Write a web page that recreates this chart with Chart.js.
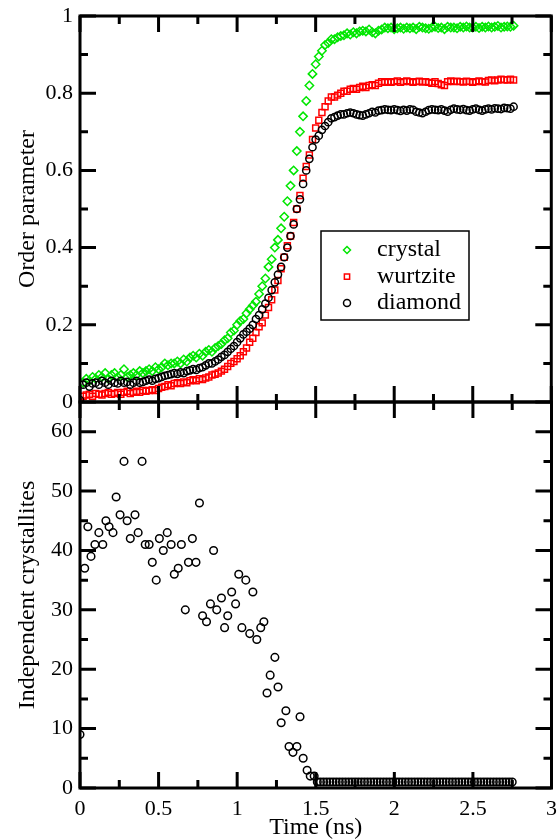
<!DOCTYPE html>
<html>
<head>
<meta charset="utf-8">
<script src="https://cdn.jsdelivr.net/npm/chart.js@4.4.1/dist/chart.umd.min.js"></script>
<style>
html, body { margin: 0; padding: 0; background: #fff; }
#wrap { position: relative; width: 557px; height: 840px; }
canvas { position: absolute; left: 0; }
#topChart { top: 0; }
#bottomChart { top: 392px; }
#overlay { top: 0; pointer-events: none; }
</style>
</head>
<body>
<div id="wrap">
<canvas id="topChart" width="557" height="412"></canvas>
<canvas id="bottomChart" width="557" height="448"></canvas>
<canvas id="overlay" width="557" height="840"></canvas>
</div>
<script>
// time axis of the order parameter runs (ns)
var times = [
  0, 0.02, 0.04, 0.06, 0.08, 0.1, 0.12, 0.14, 0.16, 0.18,
  0.2, 0.22, 0.24, 0.26, 0.28, 0.3, 0.32, 0.34, 0.36, 0.38,
  0.4, 0.42, 0.44, 0.46, 0.48, 0.5, 0.52, 0.54, 0.56, 0.58,
  0.6, 0.62, 0.64, 0.66, 0.68, 0.7, 0.72, 0.74, 0.76, 0.78,
  0.8, 0.82, 0.84, 0.86, 0.88, 0.9, 0.92, 0.94, 0.96, 0.98,
  1, 1.02, 1.04, 1.06, 1.08, 1.1, 1.12, 1.14, 1.16, 1.18,
  1.2, 1.22, 1.24, 1.26, 1.28, 1.3, 1.32, 1.34, 1.36, 1.38,
  1.4, 1.42, 1.44, 1.46, 1.48, 1.5, 1.52, 1.54, 1.56, 1.58,
  1.6, 1.62, 1.64, 1.66, 1.68, 1.7, 1.72, 1.74, 1.76, 1.78,
  1.8, 1.82, 1.84, 1.86, 1.88, 1.9, 1.92, 1.94, 1.96, 1.98,
  2, 2.02, 2.04, 2.06, 2.08, 2.1, 2.12, 2.14, 2.16, 2.18,
  2.2, 2.22, 2.24, 2.26, 2.28, 2.3, 2.32, 2.34, 2.36, 2.38,
  2.4, 2.42, 2.44, 2.46, 2.48, 2.5, 2.52, 2.54, 2.56, 2.58,
  2.6, 2.62, 2.64, 2.66, 2.68, 2.7, 2.72, 2.74, 2.76
];

var crystal = [
  0, 0.05, 0.06, 0.055, 0.065, 0.06, 0.07, 0.065, 0.075, 0.06,
  0.07, 0.075, 0.065, 0.07, 0.085, 0.065, 0.07, 0.075, 0.07, 0.08,
  0.075, 0.08, 0.085, 0.08, 0.09, 0.085, 0.09, 0.1, 0.095, 0.1,
  0.1, 0.105, 0.1, 0.11, 0.105, 0.115, 0.12, 0.115, 0.125, 0.12,
  0.13, 0.135, 0.13, 0.14, 0.145, 0.15, 0.16, 0.165, 0.18, 0.185,
  0.2, 0.21, 0.215, 0.23, 0.24, 0.25, 0.26, 0.28, 0.3, 0.32,
  0.35, 0.37, 0.4, 0.42, 0.45, 0.48, 0.52, 0.56, 0.6, 0.65,
  0.7, 0.74, 0.78, 0.82, 0.85, 0.875, 0.895, 0.91, 0.925, 0.93,
  0.94, 0.94, 0.945, 0.948, 0.95, 0.955, 0.952, 0.958, 0.955, 0.96,
  0.962, 0.96, 0.965, 0.958, 0.955, 0.962, 0.965, 0.97, 0.968, 0.97,
  0.966, 0.968, 0.97, 0.967, 0.97, 0.968, 0.97, 0.966, 0.972, 0.97,
  0.968, 0.967, 0.97, 0.972, 0.969, 0.97, 0.966, 0.972, 0.97, 0.97,
  0.968, 0.972, 0.97, 0.973, 0.97, 0.97, 0.972, 0.969, 0.972, 0.97,
  0.973, 0.97, 0.972, 0.974, 0.97, 0.972, 0.973, 0.972, 0.975
];

var wurtzite = [
  0, 0.015, 0.018, 0.02, 0.015, 0.022, 0.02, 0.018, 0.022, 0.025,
  0.02, 0.022, 0.025, 0.02, 0.025, 0.028, 0.022, 0.025, 0.028, 0.025,
  0.03, 0.028, 0.03, 0.032, 0.03, 0.035, 0.038, 0.04, 0.045, 0.042,
  0.048, 0.05, 0.048, 0.052, 0.05, 0.055, 0.058, 0.055, 0.06, 0.058,
  0.062, 0.065, 0.07, 0.072, 0.075, 0.08, 0.085, 0.092, 0.1, 0.105,
  0.112, 0.12, 0.13, 0.14, 0.155, 0.165, 0.18, 0.195, 0.205, 0.225,
  0.245, 0.265, 0.29, 0.315, 0.345, 0.375, 0.405, 0.43, 0.465, 0.5,
  0.535, 0.58, 0.61, 0.64, 0.68, 0.71, 0.73, 0.75, 0.765, 0.78,
  0.79, 0.79, 0.795, 0.8, 0.805, 0.805, 0.81, 0.812, 0.81, 0.815,
  0.818, 0.815, 0.82, 0.822, 0.82, 0.826, 0.83, 0.828, 0.83, 0.828,
  0.83, 0.832, 0.828, 0.83, 0.832, 0.83, 0.828, 0.83, 0.831, 0.829,
  0.83, 0.828, 0.826, 0.83, 0.825, 0.822, 0.82, 0.83, 0.832, 0.83,
  0.831, 0.83, 0.829, 0.831, 0.83, 0.828, 0.83, 0.832, 0.83, 0.829,
  0.833, 0.834, 0.832, 0.834, 0.836, 0.835, 0.834, 0.836, 0.834
];

var diamond = [
  0.005, 0.045, 0.05, 0.04, 0.048, 0.05, 0.045, 0.055, 0.05, 0.045,
  0.055, 0.05, 0.048, 0.055, 0.05, 0.052, 0.045, 0.05, 0.055, 0.05,
  0.052, 0.055, 0.058, 0.055, 0.06, 0.062, 0.065, 0.068, 0.07, 0.072,
  0.075, 0.073, 0.077, 0.075, 0.08, 0.082, 0.085, 0.083, 0.088, 0.09,
  0.095, 0.1, 0.1, 0.105, 0.11, 0.117, 0.122, 0.13, 0.138, 0.145,
  0.155, 0.165, 0.175, 0.182, 0.19, 0.2, 0.215, 0.225, 0.24, 0.255,
  0.27, 0.29, 0.31, 0.33, 0.35, 0.375, 0.4, 0.43, 0.46, 0.5,
  0.525, 0.565, 0.6, 0.63, 0.66, 0.68, 0.69, 0.705, 0.715, 0.725,
  0.735, 0.738, 0.742, 0.745, 0.745, 0.748, 0.75, 0.748, 0.745, 0.743,
  0.742, 0.745, 0.748, 0.752, 0.75, 0.755, 0.756, 0.758, 0.757, 0.756,
  0.758, 0.756, 0.754, 0.757, 0.755, 0.758, 0.757, 0.752, 0.75, 0.748,
  0.752, 0.756, 0.758, 0.757, 0.756, 0.758, 0.755, 0.752, 0.757, 0.76,
  0.758, 0.757, 0.759, 0.756, 0.755, 0.758, 0.76, 0.757, 0.755, 0.758,
  0.76, 0.758, 0.761, 0.76, 0.759, 0.762, 0.761, 0.76, 0.765
];

// independent crystallites (bottom panel)
var crystTimes = [
  0, 0.03, 0.05, 0.07, 0.095, 0.12, 0.145, 0.165, 0.185, 0.21,
  0.23, 0.255, 0.28, 0.3, 0.32, 0.35, 0.37, 0.395, 0.415, 0.44,
  0.46, 0.485, 0.505, 0.53, 0.555, 0.58, 0.6, 0.625, 0.645, 0.67,
  0.69, 0.715, 0.738, 0.76, 0.78, 0.805, 0.83, 0.85, 0.87, 0.9,
  0.92, 0.94, 0.965, 0.99, 1.01, 1.03, 1.055, 1.08, 1.1, 1.125,
  1.15, 1.17, 1.19, 1.21, 1.24, 1.26, 1.28, 1.31, 1.33, 1.355,
  1.38, 1.4, 1.42, 1.445, 1.465, 1.49,
  1.51, 1.53, 1.55, 1.57, 1.59, 1.61, 1.63, 1.65, 1.67, 1.69,
  1.71, 1.73, 1.75, 1.77, 1.79, 1.81, 1.83, 1.85, 1.87, 1.89,
  1.91, 1.93, 1.95, 1.97, 1.99, 2.01, 2.03, 2.05, 2.07, 2.09,
  2.11, 2.13, 2.15, 2.17, 2.19, 2.21, 2.23, 2.25, 2.27, 2.29,
  2.31, 2.33, 2.35, 2.37, 2.39, 2.41, 2.43, 2.45, 2.47, 2.49,
  2.51, 2.53, 2.55, 2.57, 2.59, 2.61, 2.63, 2.65, 2.67, 2.69,
  2.71, 2.73, 2.75
];
var crystCounts = [
  9, 37, 44, 39, 41, 43, 41, 45, 44, 43,
  49, 46, 55, 45, 42, 46, 43, 55, 41, 41,
  38, 35, 42, 40, 43, 41, 36, 37, 41, 30,
  38, 42, 38, 48, 29, 28, 31, 40, 30, 32,
  27, 29, 33, 31, 36, 27, 35, 26, 33, 25,
  27, 28, 16, 19, 22, 17, 11, 13, 7, 6,
  7, 12, 5, 3, 2, 2,
  1, 1, 1, 1, 1, 1, 1, 1, 1, 1,
  1, 1, 1, 1, 1, 1, 1, 1, 1, 1,
  1, 1, 1, 1, 1, 1, 1, 1, 1, 1,
  1, 1, 1, 1, 1, 1, 1, 1, 1, 1,
  1, 1, 1, 1, 1, 1, 1, 1, 1, 1,
  1, 1, 1, 1, 1, 1, 1, 1, 1, 1,
  1, 1, 1
];

var xTicks = [0, 0.5, 1, 1.5, 2, 2.5, 3];
var xMinor = [0.25, 0.75, 1.25, 1.75, 2.25, 2.75];
var topTicks = [0, 0.2, 0.4, 0.6, 0.8, 1];
var topMinor = [0.1, 0.3, 0.5, 0.7, 0.9];
var bottomTicks = [0, 10, 20, 30, 40, 50, 60];
var bottomMinor = [5, 15, 25, 35, 45, 55];

var serif = 'Liberation Serif';
var green = '#00e600', red = '#ff0000', black = '#000000';

function pairs(xs, ys) {
  return xs.map(function (x, i) { return { x: x, y: ys[i] }; });
}

// box round a panel with inward ticks on all four sides, on the overlay canvas
// (box = plot box in page pixels, used if the chart's own numbers are missing)
function drawFrame(chart, yMaj, yMin, offset, box) {
  var ctx = document.getElementById('overlay').getContext('2d');
  var a = chart && chart.chartArea;
  var ok = a && isFinite(a.left) && isFinite(a.top) && isFinite(a.right) && isFinite(a.bottom) && a.bottom > a.top + 50;
  var L = ok ? a.left : box[0], T = ok ? a.top + offset : box[1], R = ok ? a.right : box[2], B = ok ? a.bottom + offset : box[3];
  var xs = chart && chart.scales.x, ys = chart && chart.scales.y;
  function px(v) {
    var p = ok && xs ? xs.getPixelForValue(v) : NaN;
    return isFinite(p) ? p : L + (v - 0) / 3 * (R - L);
  }
  function py(v) {
    var p = ok && ys ? ys.getPixelForValue(v) + offset : NaN;
    return isFinite(p) ? p : B - (v - box[4]) / (box[5] - box[4]) * (B - T);
  }
  ctx.save();
  ctx.strokeStyle = '#000';
  ctx.lineWidth = 3;
  ctx.strokeRect(L, T, R - L, B - T);
  ctx.beginPath();
  xTicks.concat(xMinor).forEach(function (v, i) {
    var p = px(v), len = i < xTicks.length ? 16 : 8;
    ctx.moveTo(p, T); ctx.lineTo(p, T + len);
    ctx.moveTo(p, B); ctx.lineTo(p, B - len);
  });
  yMaj.concat(yMin).forEach(function (v, i) {
    var p = py(v), len = i < yMaj.length ? 16 : 8;
    ctx.moveTo(L, p); ctx.lineTo(L + len, p);
    ctx.moveTo(R, p); ctx.lineTo(R - len, p);
  });
  ctx.stroke();
  ctx.restore();
}

function marker(ctx, style, x, y, r) {
  ctx.beginPath();
  if (style === 'rectRot') {
    ctx.moveTo(x - r, y); ctx.lineTo(x, y - r); ctx.lineTo(x + r, y); ctx.lineTo(x, y + r); ctx.closePath();
  } else if (style === 'rect') {
    ctx.rect(x - r * 0.75, y - r * 0.75, r * 1.5, r * 1.5);
  } else {
    ctx.arc(x, y, r, 0, Math.PI * 2);
  }
  ctx.stroke();
}

var legendBox = {
  id: 'legendBox',
  afterDraw: function (chart) {
    var ctx = chart.ctx;
    ctx.save();
    ctx.fillStyle = '#fff';
    ctx.fillRect(321, 231, 148, 89);
    ctx.strokeStyle = '#000';
    ctx.lineWidth = 1.5;
    ctx.strokeRect(321, 231, 148, 89);
    ctx.font = '24px "' + serif + '"';
    ctx.textBaseline = 'middle';
    var styles = { crystal: ['rectRot', green], wurtzite: ['rect', red], diamond: ['circle', black] };
    ['crystal', 'wurtzite', 'diamond'].forEach(function (label, i) {
      var y = 250 + i * 26.5;
      ctx.strokeStyle = styles[label][1];
      ctx.lineWidth = 1.5;
      marker(ctx, styles[label][0], 347, y, 3.5);
      ctx.fillStyle = '#000';
      ctx.fillText(label, 377, y);
    });
    ctx.restore();
  }
};

function yScale(ticks, min, max, title) {
  return {
    type: 'linear', min: min, max: max,
    grid: { display: false, drawTicks: false }, border: { display: false },
    afterBuildTicks: function (s) { s.ticks = ticks.map(function (v) { return { value: v }; }); },
    afterFit: function (s) { s.width = 80; s.paddingTop = 0; s.paddingBottom = 0; },
    ticks: { font: { family: serif, size: 22 }, color: '#000', padding: 7, callback: function (v) { return String(v); } },
    title: { display: true, text: title, color: '#000', font: { family: serif, size: 24, lineHeight: 1 }, padding: { top: 16, bottom: 0 } }
  };
}

function xScale(show) {
  return {
    type: 'linear', min: 0, max: 3, display: show,
    grid: { display: false, drawTicks: false }, border: { display: false },
    afterBuildTicks: function (s) { s.ticks = xTicks.map(function (v) { return { value: v }; }); },
    afterFit: function (s) { s.height = show ? 52 : 0; s.paddingLeft = 0; s.paddingRight = 0; },
    ticks: { font: { family: serif, size: 22 }, color: '#000', padding: 8, maxRotation: 0, autoSkip: false, callback: function (v) { return String(v); } },
    title: { display: true, text: 'Time (ns)', color: '#000', font: { family: serif, size: 24, lineHeight: 1 }, padding: { top: 0, bottom: 0 } }
  };
}

function series(label, values, style, radius, color, order) {
  return {
    label: label, data: pairs(times, values), showLine: false, order: order,
    pointStyle: style, pointRadius: radius, pointBorderWidth: 1.5,
    borderColor: color, pointBorderColor: color, backgroundColor: 'rgba(0,0,0,0)', pointBackgroundColor: 'rgba(0,0,0,0)'
  };
}

try {
  new Chart(document.getElementById('topChart'), {
    type: 'scatter',
    data: {
      datasets: [
        series('crystal', crystal, 'rectRot', 4.2, green, 2),
        series('wurtzite', wurtzite, 'rect', 4.2, red, 1),
        series('diamond', diamond, 'circle', 3.6, black, 0)
      ]
    },
    options: {
      responsive: false, animation: false, events: [], devicePixelRatio: 1,
      layout: { padding: { top: 16, right: 4, bottom: 10, left: 0 } },
      plugins: { legend: { display: false }, tooltip: { enabled: false } },
      scales: { x: xScale(false), y: yScale(topTicks, 0, 1, 'Order parameter') }
    },
    plugins: [legendBox]
  });
} catch (e) {}

try {
  new Chart(document.getElementById('bottomChart'), {
    type: 'scatter',
    data: {
      datasets: [{
        label: 'crystallites', data: pairs(crystTimes, crystCounts), showLine: false,
        pointStyle: 'circle', pointRadius: 3.8, pointBorderWidth: 1.5,
        borderColor: black, pointBorderColor: black, backgroundColor: 'rgba(0,0,0,0)', pointBackgroundColor: 'rgba(0,0,0,0)'
      }]
    },
    options: {
      responsive: false, animation: false, events: [], devicePixelRatio: 1,
      layout: { padding: { top: 10, right: 4, bottom: 0, left: 0 } },
      plugins: { legend: { display: false }, tooltip: { enabled: false } },
      scales: { x: xScale(true), y: yScale(bottomTicks, 0, 65, 'Independent crystallites') }
    }
  });
} catch (e) {}

drawFrame(Chart.getChart('topChart'), topTicks, topMinor, 0, [80, 16, 553, 402, 0, 1]);
drawFrame(Chart.getChart('bottomChart'), bottomTicks, bottomMinor, 392, [80, 402, 553, 788, 0, 65]);
</script>
</body>
</html>
